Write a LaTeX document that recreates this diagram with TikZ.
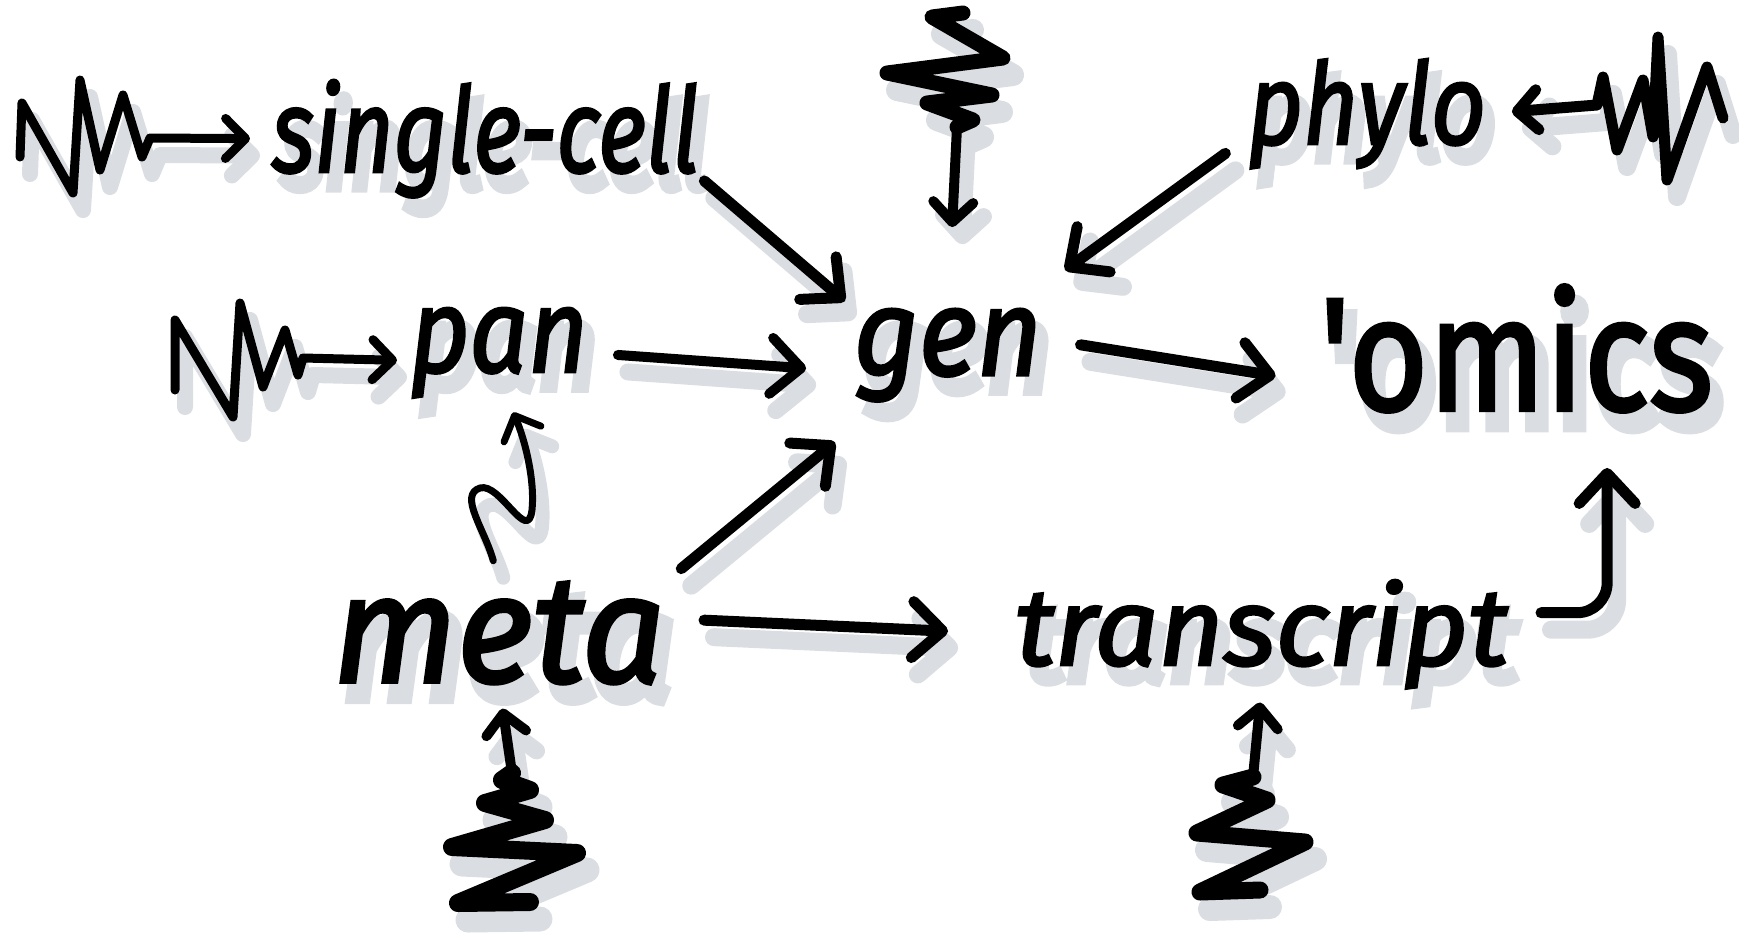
\documentclass[tikz,border=0pt]{standalone}
\usepackage{fontspec}
\usepackage{graphicx}
\setmainfont{Fira Sans}
\newfontfamily\inkfont[FakeBold=2.5]{Fira Sans}
\newfontfamily\haloface[FakeBold=8]{Fira Sans}
\usetikzlibrary{arrows.meta}
\definecolor{shadowgrey}{RGB}{218,221,225}

% a word squeezed into a box of the given width and height (in pt)
\newcommand{\handword}[3]{\resizebox{#1pt}{#2pt}{\fontsize{100pt}{120pt}\selectfont #3}}
% a word with its grey drop shadow: name, base-left point, width, height, text
\newcommand{\shadowedword}[5]{%
  \node[wordshadow] (#1-shadow) at (#2) {\handword{#3}{#4}{\haloface #5}};
  \node[word] (#1) at (#2) {\handword{#3}{#4}{\inkfont #5}};}

\begin{document}
\begin{tikzpicture}[x=1pt,y=-1pt,
  word/.style={inner sep=0pt, outer sep=0pt, anchor=base west, text=black},
  wordshadow/.style={word, text=shadowgrey, xshift=10pt, yshift=-16pt},
  ink/.style={draw=black, line width=#1, line cap=round, line join=round,
    preaction={draw=shadowgrey, line width=#1+7pt, line cap=round, line join=round,
      transform canvas={shift={(10,17)}}}},
  ink/.default=11pt,
  bigbarb/.style={-{Straight Barb[length=30pt,width=56pt,round]}},
  smallbarb/.style={-{Straight Barb[length=20pt,width=40pt,round]}}]

\useasboundingbox (0,0) rectangle (1739,935);

% words
\shadowedword{single}{272,172}{427}{92}{\itshape single-cell}
\shadowedword{pan}{410,372}{178}{64}{\itshape pan}
\shadowedword{gen}{854,375}{188}{66}{\itshape gen}
\shadowedword{omics}{1320,410}{393}{125}{'omics}
\shadowedword{phylo}{1248,144}{238}{85}{\itshape phylo}
\shadowedword{meta}{333,682}{332}{100}{\itshape meta}
\shadowedword{transcript}{1015,665}{493}{85}{\itshape transcript}

% connectors between words
\draw[ink, bigbarb, shorten <=7pt, shorten >=12pt] (single.-10) -- (gen.north west);
\draw[ink, bigbarb, shorten <=28pt, shorten >=66pt] (phylo.191) -- (gen.36);
\draw[ink=10pt, bigbarb, shorten <=30pt, shorten >=48pt] (pan.east) -- (gen.190);
\draw[ink, bigbarb, shorten <=39pt, shorten >=45pt] (gen.10) -- (omics.190);
\draw[ink, bigbarb, shorten <=21pt, shorten >=64pt] (meta.north east) -- (gen.216);
\draw[ink, bigbarb, shorten <=39pt, shorten >=67pt] (meta.5) -- (transcript.180);
\draw[ink, bigbarb, rounded corners=30pt, shorten <=33pt, shorten >=56pt]
  (transcript.5) -| (omics.-35);
\draw[ink=7pt, smallbarb, shorten <=22pt, shorten >=16pt]
  (meta.north) .. controls (485,530) and (458,495) .. (480,488)
  .. controls (500,482) and (528,545) .. (532,510)
  .. controls (535,480) and (525,440) .. (pan.-80);

% scribbled sources
\draw[ink=9pt, smallbarb, shorten >=22pt]
  (20,157) -- (22,103) -- (73,193) -- (80,80) -- (100,170) -- (123,95)
  -- (142,157) -- (150,138) -- (single.west);
\draw[ink=9pt, smallbarb, shorten >=13pt]
  (175,390) -- (175,320) -- (233,417) -- (240,303) -- (263,387) -- (285,330)
  -- (298,375) -- (303,358) -- (pan.185);
\draw[ink=11pt, smallbarb, shorten >=26pt]
  (1723,118) -- (1707,67) -- (1667,180) -- (1658,37) -- (1653,137) -- (1643,80)
  -- (1617,150) -- (1603,77) -- (1597,105) -- (phylo.east);

\coordinate (top-zig) at (957,127);
\draw[ink=15pt] (963,13) -- (932,17) -- (1003,58) -- (887,73) -- (992,95)
  -- (927,103) -- (973,120) -- (top-zig);
\draw[ink=10pt, smallbarb, shorten >=82pt] (top-zig) -- (gen.north);

\coordinate (meta-zig) at (512,773);
\draw[ink=10pt, smallbarb, shorten >=25pt] (meta-zig) -- (meta.south);
\draw[ink=18pt] (530,902) -- (458,903) -- (577,853) -- (452,847) -- (545,820)
  -- (485,803) -- (530,790) -- (502,780) -- (meta-zig);

\coordinate (tr-zig) at (1253,777);
\draw[ink=10pt, smallbarb, shorten >=14pt] (tr-zig) -- (transcript.south);
\draw[ink=17pt] (1260,890) -- (1200,892) -- (1305,842) -- (1197,833) -- (1267,800)
  -- (1223,785) -- (tr-zig);
\end{tikzpicture}
\end{document}
